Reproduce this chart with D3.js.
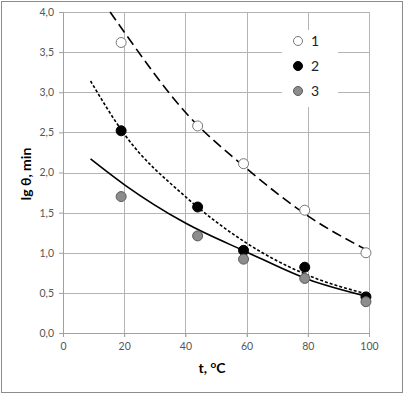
<!DOCTYPE html>
<html>
<head>
<meta charset="utf-8">
<script src="https://cdn.jsdelivr.net/npm/d3@7"></script>
<style>
  body { margin: 0; background: #fff; }
  svg { display: block; font-family: Lato, "Liberation Sans", sans-serif; }
</style>
</head>
<body>
<svg id="chart" width="404" height="394"></svg>
<script>
// measured points
var tVals = [19, 44, 59, 79, 99];
var series1 = [3.62, 2.58, 2.11, 1.53, 1.00];
var series2 = [2.52, 1.57, 1.03, 0.82, 0.45];
var series3 = [1.70, 1.21, 0.92, 0.68, 0.39];

// trend curves
var trend1X = [15.4, 20, 40, 60, 80, 100];
var trend1Y = [4.0, 3.75, 2.75, 2.05, 1.46, 1.02];
var trend23X = [9, 20, 40, 60, 80, 100];
var trend2Y = [3.14, 2.48, 1.70, 1.12, 0.72, 0.48];
var trend3Y = [2.17, 1.85, 1.37, 1.01, 0.67, 0.45];

var xTicks = [0, 20, 40, 60, 80, 100];
var yTicks = [0, 0.5, 1, 1.5, 2, 2.5, 3, 3.5, 4];
var legendLabels = ["1", "2", "3"];

var svg = d3.select("#chart"),
    margin = {top: 12, right: 35, bottom: 61, left: 63},
    width = +svg.attr("width") - margin.left - margin.right,
    height = +svg.attr("height") - margin.top - margin.bottom;

// outer frame
svg.append("rect")
    .attr("x", 1.5).attr("y", 1.5)
    .attr("width", 401).attr("height", 391)
    .attr("fill", "#fff")
    .attr("stroke", "#8c8c8c");

var g = svg.append("g").attr("transform", "translate(" + margin.left + "," + margin.top + ")");

var x = d3.scaleLinear().domain([0, 100]).range([0, width]);
var y = d3.scaleLinear().domain([0, 4]).range([height, 0]);

var fmt = function(d) { return d3.format(".1f")(d).replace(".", ","); };

// grid
g.append("g").selectAll("line")
    .data(yTicks)
    .enter().append("line")
    .attr("x1", 0).attr("x2", width)
    .attr("y1", function(d) { return Math.round(y(d)) + 0.5; })
    .attr("y2", function(d) { return Math.round(y(d)) + 0.5; })
    .attr("stroke", "#b4b4b4");

g.append("g").selectAll("line")
    .data(xTicks)
    .enter().append("line")
    .attr("y1", 0).attr("y2", height + 4)
    .attr("x1", function(d) { return Math.round(x(d)) + 0.5; })
    .attr("x2", function(d) { return Math.round(x(d)) + 0.5; })
    .attr("stroke", "#b4b4b4");

// axes
var yAxis = g.append("g")
    .call(d3.axisLeft(y).tickValues(yTicks).tickSize(4).tickFormat(fmt));
var xAxis = g.append("g")
    .attr("transform", "translate(0," + height + ")")
    .call(d3.axisBottom(x).tickValues(xTicks).tickSize(4));

[yAxis, xAxis].forEach(function(a) {
  a.select(".domain").attr("stroke", "#a0a0a0");
  a.selectAll(".tick line").attr("stroke", "#a0a0a0");
  a.selectAll("text").attr("fill", "#555").attr("font-size", 10.5).attr("font-family", "Lato, sans-serif");
});
yAxis.selectAll("text").attr("x", -9);
xAxis.selectAll("text").attr("y", 10);

// trend curves
var line = d3.line()
    .x(function(d) { return x(d[0]); })
    .y(function(d) { return y(d[1]); })
    .curve(d3.curveMonotoneX);

g.append("path")
    .datum(d3.zip(trend1X, trend1Y))
    .attr("d", line)
    .attr("fill", "none").attr("stroke", "#000").attr("stroke-width", 1.6)
    .attr("stroke-dasharray", "10,5");

g.append("path")
    .datum(d3.zip(trend23X, trend2Y))
    .attr("d", line)
    .attr("fill", "none").attr("stroke", "#000").attr("stroke-width", 1.6)
    .attr("stroke-dasharray", "3,2");

g.append("path")
    .datum(d3.zip(trend23X, trend3Y))
    .attr("d", line)
    .attr("fill", "none").attr("stroke", "#000").attr("stroke-width", 1.6);

// markers
var styles = [
  {fill: "#fff", stroke: "#777"},
  {fill: "#000", stroke: "#000"},
  {fill: "#8c8c8c", stroke: "#5a5a5a"}
];
[series1, series2, series3].forEach(function(s, i) {
  g.append("g").selectAll("circle")
      .data(d3.zip(tVals, s))
      .enter().append("circle")
      .attr("cx", function(d) { return x(d[0]); })
      .attr("cy", function(d) { return y(d[1]); })
      .attr("r", 5)
      .attr("fill", styles[i].fill)
      .attr("stroke", styles[i].stroke)
      .attr("stroke-width", 1);
});

// legend
var lg = svg.append("g").attr("transform", "translate(282,30)");
lg.append("rect").attr("width", 56).attr("height", 77).attr("fill", "#fff");
var item = lg.selectAll("g.item")
    .data(legendLabels)
    .enter().append("g")
    .attr("class", "item")
    .attr("transform", function(d, i) { return "translate(16," + (11 + i * 25) + ")"; });
item.append("circle")
    .attr("r", 4.5)
    .attr("fill", function(d, i) { return styles[i].fill; })
    .attr("stroke", function(d, i) { return styles[i].stroke; });
item.append("text")
    .attr("x", 13)
    .attr("dy", "0.35em")
    .attr("font-size", 14)
    .attr("fill", "#222")
    .text(function(d) { return d; });

// axis titles
svg.append("text")
    .attr("transform", "translate(31,174) rotate(-90)")
    .attr("text-anchor", "middle")
    .attr("font-size", 14)
    .attr("font-weight", "bold")
    .text("lg θ, min");

var xt = svg.append("text")
    .attr("x", 212).attr("y", 373)
    .attr("text-anchor", "middle")
    .attr("font-size", 14)
    .attr("font-weight", "bold");
xt.append("tspan").text("t, ");
xt.append("tspan").attr("font-size", 10).attr("dy", -5).text("o");
xt.append("tspan").attr("dy", 5).text("C");
</script>
</body>
</html>
